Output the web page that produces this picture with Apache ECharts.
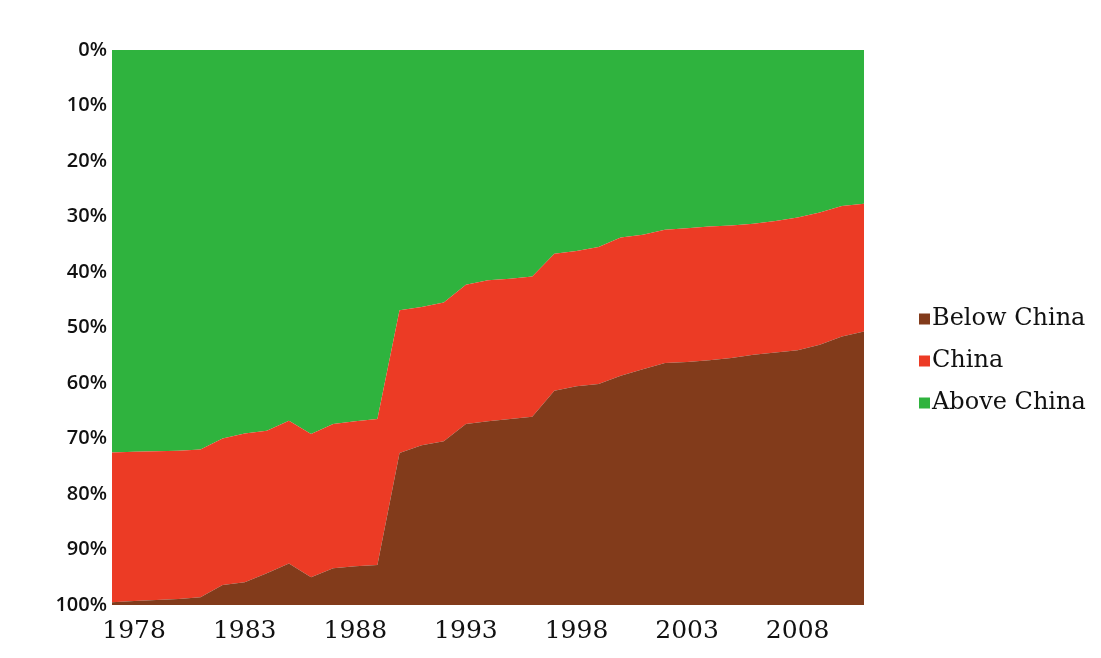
<!DOCTYPE html>
<html>
<head>
<meta charset="utf-8">
<script src="https://cdn.jsdelivr.net/npm/echarts@6/dist/echarts.min.js"></script>
<style>
  html, body { margin: 0; padding: 0; background: #ffffff; }
  #chart { width: 1101px; height: 658px; }
</style>
</head>
<body>
<div id="chart"></div>
<script>
const years = ['1977','1978','1979','1980','1981','1982','1983','1984','1985','1986',
  '1987','1988','1989','1990','1991','1992','1993','1994','1995','1996',
  '1997','1998','1999','2000','2001','2002','2003','2004','2005','2006',
  '2007','2008','2009','2010','2011'];

const aboveChina = [72.5,72.4,72.3,72.2,72.0,70.0,69.1,68.6,66.8,69.2,
  67.4,66.9,66.5,46.9,46.3,45.5,42.3,41.5,41.2,40.8,
  36.7,36.2,35.5,33.8,33.3,32.4,32.1,31.8,31.6,31.3,
  30.8,30.2,29.3,28.1,27.7];

const china = [27.0,26.9,26.8,26.7,26.6,26.4,26.8,25.7,25.7,25.8,
  26.0,26.1,26.3,25.7,24.9,25.0,25.1,25.4,25.3,25.3,
  24.7,24.4,24.7,24.9,24.2,24.0,24.1,24.1,23.9,23.6,
  23.7,23.9,23.8,23.5,23.0];

const belowChina = [0.5,0.7,0.9,1.1,1.4,3.6,4.1,5.7,7.5,5.0,
  6.6,7.0,7.2,27.4,28.8,29.5,32.6,33.1,33.5,33.9,
  38.6,39.4,39.8,41.3,42.5,43.6,43.8,44.1,44.5,45.1,
  45.5,45.9,46.9,48.4,49.3];

const seriesNames = ['Below China', 'China', 'Above China'];
const colors = { 'Below China': '#823b1b', 'China': '#ec3b25', 'Above China': '#2fb33e' };

const chart = echarts.init(document.getElementById('chart'), null, { renderer: 'canvas' });

function areaSeries(name, data) {
  return {
    name: name,
    type: 'line',
    stack: 'total',
    data: data,
    symbol: 'none',
    lineStyle: { width: 0 },
    areaStyle: { color: colors[name], opacity: 1 },
    itemStyle: { color: colors[name] },
    emphasis: { disabled: true },
    animation: false
  };
}

chart.setOption({
  animation: false,
  backgroundColor: '#ffffff',
  grid: { left: 112, right: 237, top: 50, bottom: 53, containLabel: false },
  legend: {
    data: seriesNames,
    orient: 'vertical',
    left: 914,
    top: 302,
    itemGap: 18,
    itemWidth: 11,
    itemHeight: 11,
    icon: 'rect',
    textStyle: { fontFamily: 'DejaVu Serif', fontSize: 24, color: '#111', padding: [0, 0, 0, -3] }
  },
  xAxis: {
    type: 'category',
    data: years,
    boundaryGap: false,
    axisLine: { show: false },
    axisTick: { show: false },
    splitLine: { show: false },
    axisLabel: {
      interval: function (index) { return index % 5 === 1; },
      fontFamily: 'DejaVu Serif',
      fontSize: 25,
      color: '#111',
      margin: 14
    }
  },
  yAxis: {
    type: 'value',
    inverse: true,
    min: 0,
    max: 100,
    interval: 10,
    axisLine: { show: false },
    axisTick: { show: false },
    splitLine: { show: false },
    axisLabel: {
      formatter: '{value}%',
      fontFamily: 'Open Sans',
      fontWeight: 600,
      fontSize: 20,
      color: '#111',
      margin: 5
    }
  },
  series: [
    areaSeries('Above China', aboveChina),
    areaSeries('China', china),
    areaSeries('Below China', belowChina)
  ]
});
</script>
</body>
</html>
